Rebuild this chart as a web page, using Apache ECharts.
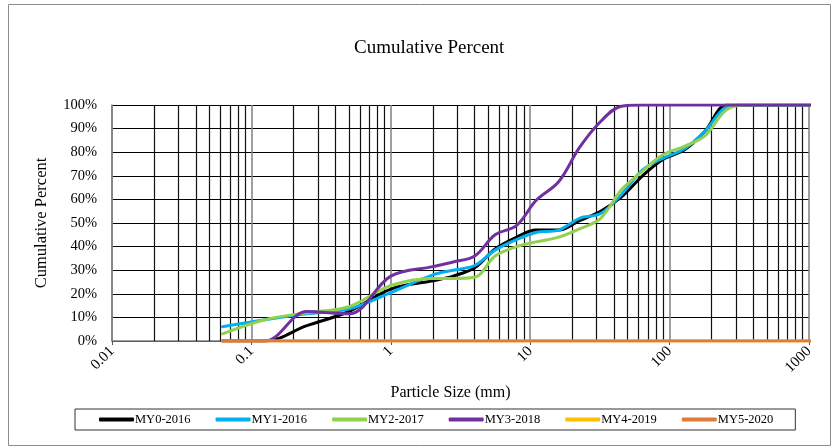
<!DOCTYPE html>
<html>
<head>
<meta charset="utf-8">
<script src="https://cdn.jsdelivr.net/npm/echarts@6/dist/echarts.min.js"></script>
<style>
html,body{margin:0;padding:0;background:#fff;}
#c{width:831px;height:447px;}
</style>
</head>
<body>
<div id="c"></div>
<script>
// Particle sizes (mm)
var sizes = [0.062, 0.125, 0.25, 0.5, 1, 2, 2.8, 4, 5.6, 8, 11, 16, 22.6, 32, 45, 64, 90, 128, 180, 256, 362, 512, 1024];
// Cumulative percent per survey
var my0_2016 = [0, 0, 6.5, 12.5, 22, 25.5, 27.5, 31, 39, 44, 47, 47, 51, 55, 61, 70, 77, 81, 89, 100, 100, 100, 100];
var my1_2016 = [6, 9, 11.5, 13.5, 20.5, 28, 30, 32, 38.5, 43, 46, 47, 52, 54, 62, 72.5, 77.5, 81.5, 89, 99, 100, 100, 100];
var my2_2017 = [3, 9, 12, 14.5, 23.5, 26.5, 26.5, 27, 36, 40, 42, 44, 47.5, 52, 64, 72, 79, 82.5, 87, 98, 100, 100, 100];
var my3_2018 = [0, 0, 12.5, 11.5, 27.5, 31.5, 33.5, 36, 45, 49, 59.5, 67.5, 82, 93, 99.5, 100, 100, 100, 100, 100, 100, 100, 100];
var my4_2019 = [0, 0, 0, 0, 0, 0, 0, 0, 0, 0, 0, 0, 0, 0, 0, 0, 0, 0, 0, 0, 0, 0, 0];
var my5_2020 = [0, 0, 0, 0, 0, 0, 0, 0, 0, 0, 0, 0, 0, 0, 0, 0, 0, 0, 0, 0, 0, 0, 0];
var seriesNames = ['MY0-2016', 'MY1-2016', 'MY2-2017', 'MY3-2018', 'MY4-2019', 'MY5-2020'];
var seriesColors = ['#000000', '#00B0F0', '#92D050', '#7030A0', '#FFC000', '#E07B39'];
var decades = [0.01, 0.1, 1, 10, 100];
var minorMult = [2, 3, 4, 5, 6, 7, 8, 9];

var allData = [my0_2016, my1_2016, my2_2017, my3_2018, my4_2019, my5_2020];
function pairs(arr){ return sizes.map(function(s,i){ return [s, arr[i]]; }); }

var minorLines = [];
decades.forEach(function(d){
  minorMult.forEach(function(m){ minorLines.push({xAxis: parseFloat((d*m).toPrecision(3))}); });
});

var FONT = '"Liberation Serif","Times New Roman",serif';
var series = allData.map(function(arr, i){
  return {
    name: seriesNames[i],
    type: 'line',
    data: pairs(arr),
    smooth: 0.35,
    showSymbol: false,
    symbol: 'none',
    clip: true,
    lineStyle: {color: seriesColors[i], width: 3, cap: 'round'},
    itemStyle: {color: seriesColors[i]},
    z: 10 + i
  };
});
// minor log grid lines
series.push({
  name: 'minorgrid',
  type: 'line',
  data: [],
  silent: true,
  z: 1,
  markLine: {
    silent: true,
    symbol: ['none','none'],
    label: {show: false},
    animation: false,
    lineStyle: {color: '#111', width: 1.2, type: 'solid'},
    data: minorLines
  }
});

var chart = echarts.init(document.getElementById('c'), null, {renderer: 'canvas'});
chart.setOption({
  animation: false,
  backgroundColor: '#fff',
  textStyle: {fontFamily: FONT},
  title: {
    text: 'Cumulative Percent',
    left: 349, top: 34,
    textStyle: {fontFamily: FONT, fontSize: 19, fontWeight: 'normal', color: '#000'}
  },
  graphic: [{
    type: 'rect', shape: {x: 8.5, y: 4.5, width: 822, height: 441},
    style: {fill: 'none', stroke: '#8c8c8c', lineWidth: 1}, silent: true, z: -1
  }],
  grid: {left: 112, right: 22, top: 105, bottom: 106, containLabel: false},
  legend: {
    data: seriesNames,
    left: 75, top: 409,
    orient: 'horizontal',
    padding: [4, 22, 4, 24],
    borderColor: '#333', borderWidth: 1,
    itemWidth: 35, itemHeight: 4, itemGap: 25,
    icon: 'roundRect',
    textStyle: {fontFamily: FONT, fontSize: 12.5, color: '#000', padding: [0,0,0,-4]}
  },
  xAxis: {
    type: 'log', logBase: 10, min: 0.01, max: 1000,
    name: 'Particle Size (mm)', nameLocation: 'middle', nameGap: 44,
    nameTextStyle: {fontFamily: FONT, fontSize: 16, color: '#000', padding: [0, 20, 0, 0]},
    axisLine: {show: true, lineStyle: {color: '#7f7f7f', width: 1.5}},
    axisTick: {show: true, length: 4, lineStyle: {color: '#555'}},
    axisLabel: {rotate: 45, fontFamily: FONT, fontSize: 15, color: '#000', margin: 8,
      formatter: function(v){ return String(parseFloat(Number(v).toPrecision(3))); }},
    splitLine: {show: true, lineStyle: {color: '#7f7f7f', width: 1.5}},
    minorTick: {show: false}, minorSplitLine: {show: false}
  },
  yAxis: {
    type: 'value', min: 0, max: 100, interval: 10,
    name: 'Cumulative Percent', nameLocation: 'middle', nameGap: 62,
    nameTextStyle: {fontFamily: FONT, fontSize: 16.5, color: '#000'},
    axisLine: {show: true, lineStyle: {color: '#7f7f7f', width: 1.5}},
    axisTick: {show: false},
    axisLabel: {formatter: '{value}%', fontFamily: FONT, fontSize: 14.5, color: '#000', margin: 15},
    splitLine: {show: true, lineStyle: {color: '#000', width: 1}}
  },
  series: series
});
</script>
</body>
</html>
